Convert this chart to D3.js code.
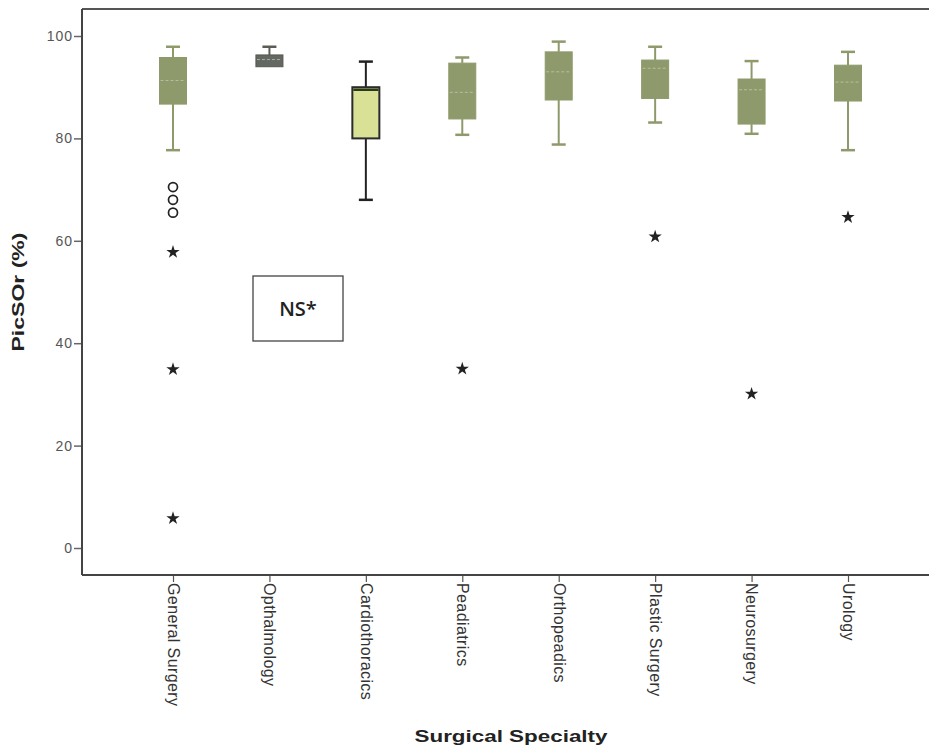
<!DOCTYPE html>
<html>
<head>
<meta charset="utf-8">
<script src="https://cdn.jsdelivr.net/npm/d3@7"></script>
<style>
  body { margin: 0; background: #fff; }
  #chart { width: 929px; height: 751px; }
</style>
</head>
<body>
<div id="chart"></div>
<script>
// values
var categories = ["General Surgery", "Opthalmology", "Cardiothoracics", "Peadiatrics",
                  "Orthopeadics", "Plastic Surgery", "Neurosurgery", "Urology"];
var whiskerLow  = [77.7, 94.0, 68.0, 80.7, 78.8, 83.1, 80.9, 77.7];
var q1          = [86.7, 94.0, 80.0, 83.8, 87.5, 87.8, 82.8, 87.3];
var medians     = [91.3, 95.4, 89.5, 89.0, 93.0, 93.7, 89.5, 91.0];
var q3          = [95.8, 96.3, 90.0, 94.7, 96.9, 95.3, 91.6, 94.3];
var whiskerHigh = [97.9, 97.9, 95.0, 95.8, 98.9, 97.9, 95.1, 96.9];
// mild outliers (circles) and extremes (stars)
var outlierCat = ["General Surgery", "General Surgery", "General Surgery"];
var outlierVal = [70.5, 68.0, 65.5];
var extremeCat = ["General Surgery", "General Surgery", "General Surgery", "Peadiatrics",
                  "Plastic Surgery", "Neurosurgery", "Urology"];
var extremeVal = [57.8, 34.9, 5.8, 35.0, 60.8, 30.1, 64.6];
var yTicks = [0, 20, 40, 60, 80, 100];

var olive = "#8e9a6b";
var boxFill = {"Opthalmology": "#646862", "Cardiothoracics": "#d9e197"};
var boxStroke = {"Opthalmology": "#55584f", "Cardiothoracics": "#2b2b2b"};

var div_width = 929, div_height = 751;
var frame = {left: 82, top: 9, bottom: 575, right: 929};

var svg = d3.select("#chart")
  .append("svg")
  .attr("width", div_width)
  .attr("height", div_height)
  .style("display", "block");

var x = d3.scalePoint()
  .domain(categories)
  .range([173, 848]);

var y = d3.scaleLinear()
  .domain([0, 100])
  .range([548, 36]);

var boxW = 27, capW = 14;

// frame: top line + axes
svg.append("line")
  .attr("x1", frame.left).attr("x2", frame.right)
  .attr("y1", frame.top).attr("y2", frame.top)
  .attr("stroke", "#555").attr("stroke-width", 2);

var yAxis = svg.append("g")
  .attr("transform", "translate(" + frame.left + ",0)")
  .call(d3.axisLeft(y).tickValues(yTicks).tickSize(8).tickPadding(1));
yAxis.select(".domain").remove();
yAxis.append("line")
  .attr("x1", 0).attr("x2", 0)
  .attr("y1", frame.top).attr("y2", frame.bottom)
  .attr("stroke", "#444").attr("stroke-width", 2);
yAxis.selectAll(".tick line").attr("stroke", "#666").attr("stroke-width", 1.5);
yAxis.selectAll(".tick text")
  .style("font", "14px 'Liberation Sans', Arial, sans-serif")
  .attr("letter-spacing", "1px")
  .attr("fill", "#555");

var xAxis = svg.append("g")
  .attr("transform", "translate(0," + frame.bottom + ")")
  .call(d3.axisBottom(x).tickSize(7).tickSizeOuter(0));
xAxis.select(".domain").remove();
xAxis.append("line")
  .attr("x1", frame.left).attr("x2", frame.right)
  .attr("y1", 0).attr("y2", 0)
  .attr("stroke", "#444").attr("stroke-width", 2);
xAxis.selectAll(".tick line").attr("stroke", "#555").attr("stroke-width", 1.2);
xAxis.selectAll(".tick text")
  .style("font", "16px 'Liberation Sans', Arial, sans-serif")
  .attr("letter-spacing", "0.4px")
  .attr("fill", "#333")
  .attr("text-anchor", "start")
  .attr("dy", "0.35em")
  .attr("transform", "translate(0,8) rotate(90)")
  .attr("x", 0).attr("y", 0);

// boxes
var boxes = svg.append("g").selectAll("g")
  .data(categories)
  .enter()
  .append("g")
  .attr("transform", function(d) { return "translate(" + x(d) + ",0)"; });

boxes.each(function(d, i) {
  var g = d3.select(this);
  var fill = boxFill[d] || olive;
  var stroke = boxStroke[d] || olive;
  var wc = d == "Cardiothoracics" ? "#222" : (d == "Opthalmology" ? "#5a5d56" : olive);
  // whiskers
  g.append("line")
    .attr("x1", 0).attr("x2", 0)
    .attr("y1", y(whiskerHigh[i])).attr("y2", y(q3[i]))
    .attr("stroke", wc).attr("stroke-width", 2);
  g.append("line")
    .attr("x1", 0).attr("x2", 0)
    .attr("y1", y(q1[i])).attr("y2", y(whiskerLow[i]))
    .attr("stroke", wc).attr("stroke-width", 2);
  g.append("line")
    .attr("x1", -capW / 2).attr("x2", capW / 2)
    .attr("y1", y(whiskerHigh[i])).attr("y2", y(whiskerHigh[i]))
    .attr("stroke", wc).attr("stroke-width", 2.5);
  if (whiskerLow[i] < q1[i]) {
    g.append("line")
      .attr("x1", -capW / 2).attr("x2", capW / 2)
      .attr("y1", y(whiskerLow[i])).attr("y2", y(whiskerLow[i]))
      .attr("stroke", wc).attr("stroke-width", 2.5);
  }
  // box
  g.append("rect")
    .attr("x", -boxW / 2)
    .attr("y", y(q3[i]))
    .attr("width", boxW)
    .attr("height", y(q1[i]) - y(q3[i]))
    .attr("fill", fill)
    .attr("stroke", stroke)
    .attr("stroke-width", d == "Cardiothoracics" ? 2 : 1);
  // median
  g.append("line")
    .attr("x1", -boxW / 2 + 1).attr("x2", boxW / 2 - 1)
    .attr("y1", y(medians[i])).attr("y2", y(medians[i]))
    .attr("stroke", d == "Cardiothoracics" ? "#2b3a1a" : "#c9cfb4")
    .attr("stroke-width", d == "Cardiothoracics" ? 2.5 : 1)
    .attr("stroke-dasharray", d == "Cardiothoracics" ? null : "3,2")
    .attr("opacity", d == "Cardiothoracics" ? 1 : 0.7);
});

// outliers
svg.append("g").selectAll("circle")
  .data(outlierVal)
  .enter()
  .append("circle")
  .attr("cx", function(d, i) { return x(outlierCat[i]); })
  .attr("cy", function(d) { return y(d); })
  .attr("r", 4.5)
  .attr("fill", "none")
  .attr("stroke", "#222")
  .attr("stroke-width", 1.7);

var star = d3.symbol().type(d3.symbolStar).size(55);
svg.append("g").selectAll("path")
  .data(extremeVal)
  .enter()
  .append("path")
  .attr("d", star)
  .attr("transform", function(d, i) { return "translate(" + x(extremeCat[i]) + "," + y(d) + ")"; })
  .attr("fill", "#222");

// NS* annotation
svg.append("rect")
  .attr("x", 253).attr("y", 276)
  .attr("width", 90).attr("height", 65)
  .attr("fill", "#fff")
  .attr("stroke", "#444")
  .attr("stroke-width", 1.3);
svg.append("text")
  .attr("x", 298).attr("y", 316)
  .attr("text-anchor", "middle")
  .style("font", "600 20px 'Open Sans', 'Noto Sans', sans-serif")
  .attr("fill", "#222")
  .text("NS*");

// axis titles
svg.append("text")
  .attr("transform", "translate(24,292) rotate(-90)")
  .attr("text-anchor", "middle")
  .attr("textLength", 119)
  .attr("lengthAdjust", "spacingAndGlyphs")
  .style("font", "bold 17px 'Liberation Sans', Arial, sans-serif")
  .attr("fill", "#222")
  .text("PicSOr (%)");

svg.append("text")
  .attr("x", 511).attr("y", 742)
  .attr("text-anchor", "middle")
  .attr("textLength", 193)
  .attr("lengthAdjust", "spacingAndGlyphs")
  .style("font", "bold 17px 'Liberation Sans', Arial, sans-serif")
  .attr("fill", "#222")
  .text("Surgical Specialty");
</script>
</body>
</html>
